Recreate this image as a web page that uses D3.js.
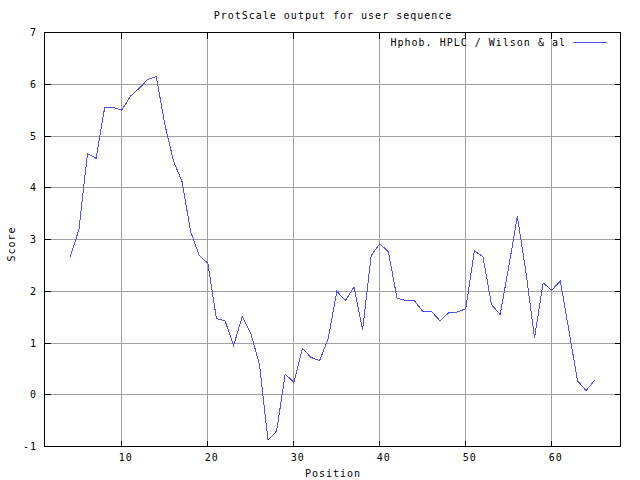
<!DOCTYPE html>
<html>
<head>
<meta charset="utf-8">
<script src="https://cdn.jsdelivr.net/npm/d3@7"></script>
<style>
  body { margin: 0; background: #fff; }
  text { font-family: "DejaVu Sans Mono", "Liberation Mono", monospace; font-size: 10px; letter-spacing: 1px; fill: #000; }
</style>
</head>
<body>
<div id="chart"></div>
<script>
// data
var positions = d3.range(4, 66);
var scores = [2.67, 3.19, 4.66, 4.57, 5.55, 5.55, 5.50, 5.77, 5.92, 6.09,
              6.15, 5.22, 4.52, 4.12, 3.15, 2.69, 2.54, 1.47, 1.43, 0.95,
              1.51, 1.18, 0.59, -0.88, -0.70, 0.40, 0.24, 0.90, 0.72, 0.66,
              1.08, 2.00, 1.82, 2.08, 1.25, 2.69, 2.92, 2.76, 1.87, 1.82,
              1.82, 1.61, 1.61, 1.43, 1.58, 1.60, 1.66, 2.78, 2.67, 1.74,
              1.55, 2.47, 3.45, 2.37, 1.10, 2.16, 2.02, 2.20, 1.24, 0.27,
              0.08, 0.28];
var xTicks = [10, 20, 30, 40, 50, 60];
var yTicks = [-1, 0, 1, 2, 3, 4, 5, 6, 7];
var seriesName = "Hphob. HPLC / Wilson & al";

var W = 640, H = 480;
// plot frame (pixel centres)
var pLeft = 44.5, pRight = 620.5, pTop = 32.5, pBottom = 446.5;

var svg = d3.select("#chart")
    .append("svg")
    .attr("width", W)
    .attr("height", H);

var x = d3.scaleLinear().domain([1, 68]).range([pLeft, pRight]);
var y = d3.scaleLinear().domain([-1, 7]).range([pBottom, pTop]);

function px(v) { return Math.round(v - 0.5) + 0.5; }

// grid
var grid = svg.append("g").attr("stroke", "#a0a0a0").attr("shape-rendering", "crispEdges");
grid.selectAll(".gx").data(xTicks).enter().append("line")
    .attr("x1", function (d) { return px(x(d)); })
    .attr("x2", function (d) { return px(x(d)); })
    .attr("y1", pTop).attr("y2", pBottom);
grid.selectAll(".gy").data(yTicks).enter().append("line")
    .attr("y1", function (d) { return px(y(d)); })
    .attr("y2", function (d) { return px(y(d)); })
    .attr("x1", pLeft).attr("x2", pRight);

// ticks (inward, mirrored)
var tk = svg.append("g").attr("stroke", "#000").attr("shape-rendering", "crispEdges");
xTicks.forEach(function (d) {
    var xx = px(x(d));
    tk.append("line").attr("x1", xx).attr("x2", xx).attr("y1", pBottom).attr("y2", pBottom - 6);
    tk.append("line").attr("x1", xx).attr("x2", xx).attr("y1", pTop).attr("y2", pTop + 6);
});
yTicks.forEach(function (d) {
    var yy = px(y(d));
    tk.append("line").attr("y1", yy).attr("y2", yy).attr("x1", pLeft).attr("x2", pLeft + 6);
    tk.append("line").attr("y1", yy).attr("y2", yy).attr("x1", pRight).attr("x2", pRight - 6);
});

// frame
svg.append("rect")
    .attr("x", pLeft).attr("y", pTop)
    .attr("width", pRight - pLeft).attr("height", pBottom - pTop)
    .attr("fill", "none").attr("stroke", "#000")
    .attr("shape-rendering", "crispEdges");

// tick labels
svg.selectAll(".xl").data(xTicks).enter().append("text")
    .attr("x", function (d) { return x(d) + 4; })
    .attr("y", 461)
    .attr("text-anchor", "middle")
    .text(function (d) { return d; });
svg.selectAll(".yl").data(yTicks).enter().append("text")
    .attr("x", 37)
    .attr("y", function (d) { return y(d) + 3.5; })
    .attr("text-anchor", "end")
    .text(function (d) { return d; });

// the series
var line = d3.line()
    .x(function (d, i) { return x(positions[i]); })
    .y(function (d) { return y(d); });
svg.append("path")
    .datum(scores)
    .attr("d", line)
    .attr("fill", "none")
    .attr("stroke", "#5050ff")
    .attr("stroke-width", 1)
    .attr("shape-rendering", "crispEdges");

// titles
svg.append("text").attr("x", 333).attr("y", 19).attr("text-anchor", "middle")
    .text("ProtScale output for user sequence");
svg.append("text").attr("x", 333).attr("y", 477).attr("text-anchor", "middle")
    .text("Position");
svg.append("text")
    .attr("transform", "translate(15,244) rotate(-90)")
    .attr("text-anchor", "middle")
    .text("Score");

// legend
svg.append("text").attr("x", 566).attr("y", 46).attr("text-anchor", "end")
    .text(seriesName);
svg.append("line")
    .attr("x1", 573).attr("x2", 607).attr("y1", 42.5).attr("y2", 42.5)
    .attr("stroke", "#5050ff")
    .attr("shape-rendering", "crispEdges");
</script>
</body>
</html>
